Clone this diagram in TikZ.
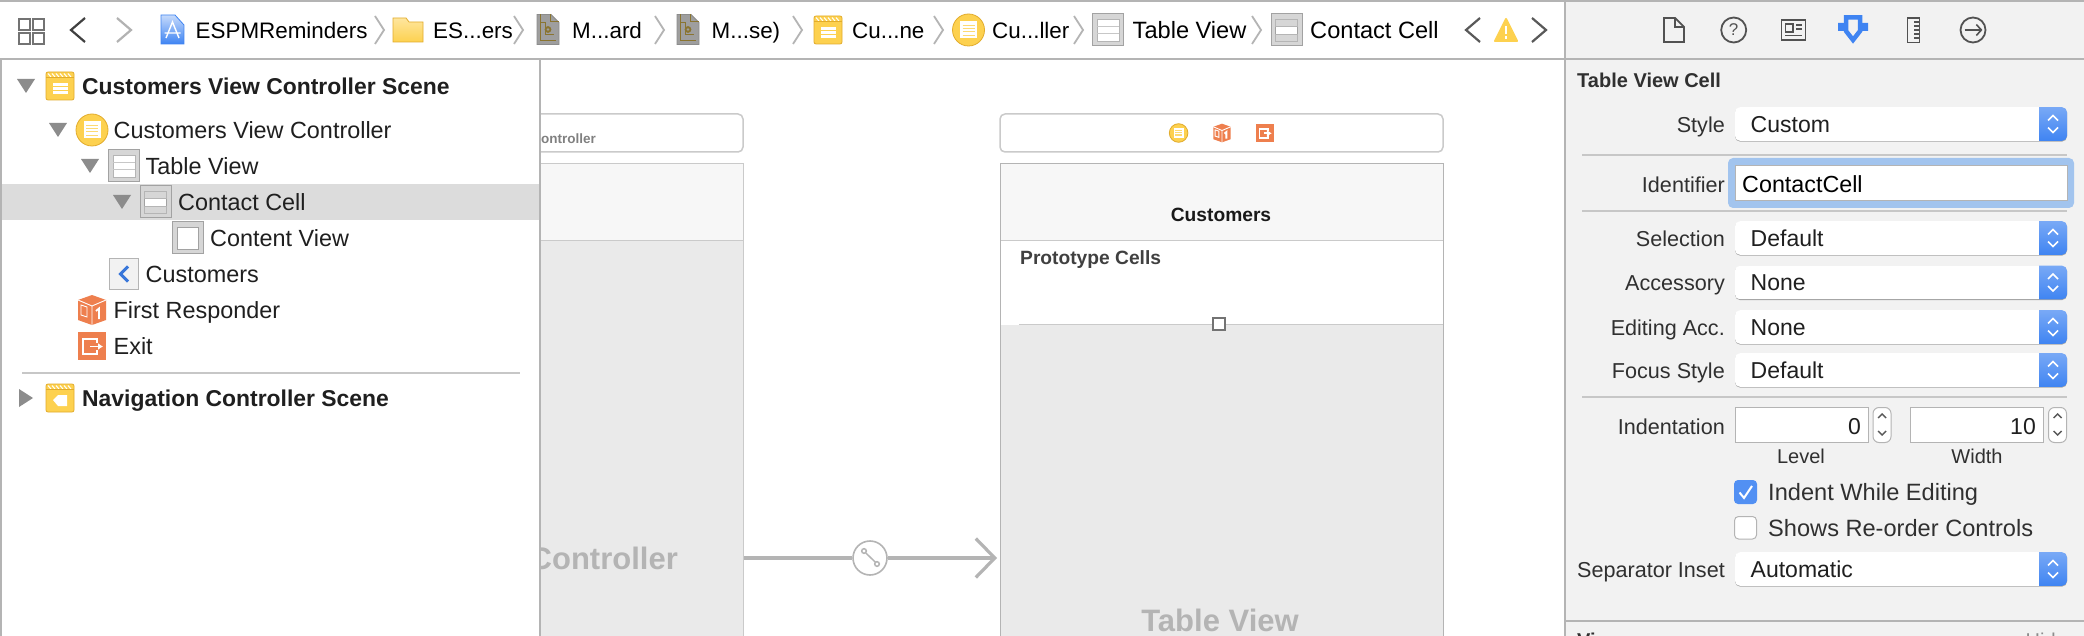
\documentclass[tikz,border=0pt]{standalone}
\usepackage{fontspec}
\setmainfont{Liberation Sans}
\usetikzlibrary{arrows.meta}
\definecolor{barline}{HTML}{B4B4B4}
\definecolor{panelgray}{HTML}{F2F2F2}
\definecolor{rowgray}{HTML}{DCDCDC}
\definecolor{treegray}{HTML}{8C8C8C}
\definecolor{iconyellow}{HTML}{FDD14F}
\definecolor{iconedge}{HTML}{E2AC2C}
\definecolor{iconorange}{HTML}{EE7F4E}
\definecolor{cellgray}{HTML}{D6D6D6}
\definecolor{celledge}{HTML}{A2A2A2}
\definecolor{canvasgray}{HTML}{EAEAEA}
\definecolor{ghostgray}{HTML}{B4B4B4}
\definecolor{pickblue}{HTML}{3F84F2}
\definecolor{focusblue}{HTML}{A2C4EE}
\definecolor{boardbrown}{HTML}{8A7430}
\definecolor{labeltext}{HTML}{303030}

\begin{document}
\begin{tikzpicture}[x=1pt,y=-1pt]
    % Stili
    \tikzset{
        ui text/.style={inner sep=0pt,text height=20.5pt,text depth=4pt,font=\fontsize{23.4}{26}\selectfont,text=black!88},
        crumb text/.style={ui text,anchor=west,text=black,font=\fontsize{22.4}{26}\selectfont},
        tree text/.style={ui text,anchor=west},
        scene text/.style={ui text,anchor=west,font=\fontsize{22.9}{26}\bfseries\selectfont},
        form label/.style={ui text,anchor=east,font=\fontsize{21.6}{26}\selectfont,text=labeltext},
        form value/.style={ui text,anchor=west,font=\fontsize{23}{26}\selectfont},
        check text/.style={ui text,anchor=west,font=\fontsize{23.6}{26}\selectfont,text=labeltext},
        ghost text/.style={ui text,font=\fontsize{31}{34}\bfseries\selectfont,text=ghostgray},
        crumb sep/.style={barline,line width=1.8pt},
        nav chevron/.style={line width=2.2pt,line join=miter},
        divider/.style={barline!75,line width=2pt},
        flow line/.style={barline,line width=3.2pt},
        segue point/.style={circle,draw=barline,fill=white,line width=1.6pt,inner sep=0pt,minimum size=34pt},
        tool stroke/.style={black!68,line width=1.8pt},
        tree open/.pic={\fill[treegray] (-9,-7) -- (9,-7) -- (0,7) -- cycle;},
        tree closed/.pic={\fill[treegray] (-7,-9) -- (7,0) -- (-7,9) -- cycle;},
        scene base/.pic={
            \fill[iconyellow,draw=iconedge,line width=.8pt,rounded corners=2pt] (-14,-14) rectangle (14,14);
            \foreach \stripe in {-12,-8,-4,0,4,8}
                \draw[white,line width=1pt] (\stripe,-12.5) -- (\stripe+3,-9);
            \draw[iconedge,line width=.6pt] (-14,-8.5) -- (14,-8.5);
        },
        scene icon/.pic={
            \pic {scene base};
            \fill[white] (-7,-3) rectangle (8,8);
            \draw[iconyellow,line width=1.1pt] (-7,.8) -- (8,.8) (-7,4.4) -- (8,4.4);
        },
        nav scene icon/.pic={
            \pic {scene base};
            \fill[white] (7,-3) -- (-2,-3) -- (-7,2) -- (-2,8) -- (7,8) -- cycle;
        },
        vc icon/.pic={
            \fill[iconyellow,draw=iconedge,line width=.8pt] (0,0) circle (16);
            \fill[white] (-8.5,-8.5) rectangle (8.5,8.5);
            \draw[iconyellow!80,line width=.8pt] (-6,-5) -- (6,-5) (-6,-1.7) -- (6,-1.7) (-6,1.7) -- (6,1.7) (-6,5) -- (6,5);
        },
        gray tile/.pic={\fill[cellgray,draw=celledge,line width=1pt] (-15.5,-16) rectangle (15.5,16);},
        table icon/.pic={
            \pic {gray tile};
            \fill[white,draw=celledge!80,line width=.8pt] (-11,-11) rectangle (11,11);
            \draw[celledge!60,line width=.8pt] (-11,-3.7) -- (11,-3.7) (-11,3.7) -- (11,3.7);
        },
        cell icon/.pic={
            \pic {gray tile};
            \fill[white,draw=celledge,line width=.8pt] (-11,-11) rectangle (11,11);
            \fill[cellgray,draw=celledge!80,line width=.8pt] (-11,-11) rectangle (11,-4);
            \fill[cellgray,draw=celledge!80,line width=.8pt] (-11,4) rectangle (11,11);
        },
        content icon/.pic={
            \pic {gray tile};
            \fill[white,draw=celledge,line width=.8pt] (-10.5,-11) rectangle (10.5,11);
        },
        back icon/.pic={
            \fill[black!5,draw=barline,line width=1pt] (-14.5,-15) rectangle (14.5,15);
            \draw[pickblue!90!black,line width=3pt] (4,-7.5) -- (-3.5,0) -- (4,7.5);
        },
        cube icon/.pic={
            \fill[iconorange] (0,-15) -- (14,-10) -- (14,10) -- (0,15) -- (-14,10) -- (-14,-10) -- cycle;
            \draw[white,line width=.9pt] (-14,-10) -- (0,-4) -- (14,-10) (0,-4) -- (0,15);
            \draw[white,line width=.9pt] (-11,-5) -- (-5,-3) -- (-5,7) -- (-11,5) -- cycle;
            \draw[white,line width=1.8pt] (4,1) -- (7,-1.5) -- (7,9);
        },
        exit icon/.pic={
            \fill[iconorange] (-14,-14) rectangle (14,14);
            \draw[white,line width=1.8pt] (5,-3) -- (5,-7) -- (-9,-7) -- (-9,8) -- (5,8) -- (5,4);
            \draw[white,line width=1.8pt,-{Latex[length=5pt,width=7pt]}] (-2,.5) -- (11,.5);
        },
        board icon/.pic={
            \fill[black!38,draw=black!45,line width=.8pt] (-11,-15) -- (3,-15) -- (11,-7) -- (11,15) -- (-11,15) -- cycle;
            \draw[boardbrown,line width=1pt] (2,-15) -- (2,-8) -- (11,-8);
            \draw[boardbrown,line width=1pt] (-8,-15) -- (-8,11) -- (8,11);
            \draw[boardbrown,line width=1pt] (-8,-7) -- (-3,-7) -- (-3,5) -- (6,5);
            \fill[boardbrown] (0,0) circle (3.4);
            \fill[black!38] (0,0) circle (1.4);
        },
    }
    \useasboundingbox (0,0) rectangle (2084,636);
    \clip (0,0) rectangle (2084,636);

    % Tela
    \fill[white] (0,0) rectangle (2084,636);
    \draw[barline!70,line width=1.5pt,fill=white,rounded corners=5pt] (300,114) rectangle (743,152);
    \node[ui text,anchor=east,font=\fontsize{13.5}{16}\bfseries\selectfont,text=black!50] (left title) at (596,135) {Controller};
    \fill[canvasgray] (300,164) rectangle (743,640);
    \fill[black!3] (300,164) rectangle (743,240);
    \draw[barline!70,line width=1pt] (300,164) -| (743,640);
    \draw[barline!70,line width=1pt] (300,240.5) -- (743,240.5);
    \node[ghost text,anchor=east] (left ghost) at (678,561) {Controller};

    \draw[barline!70,line width=1.5pt,fill=white,rounded corners=5pt] (1000,114) rectangle (1443,152);
    \pic[scale=.58] at (1178.6,133) {vc icon};
    \pic[scale=.62] at (1222,133) {cube icon};
    \pic[scale=.62] at (1265,133) {exit icon};
    \fill[white] (1000,164) rectangle (1443,640);
    \fill[black!3] (1000,164) rectangle (1443,240);
    \fill[canvasgray] (1000,325) rectangle (1443,640);
    \draw[barline!70,line width=1pt] (1019,324.5) -- (1443,324.5);
    \draw[barline!70,line width=1pt] (1000,240.5) -- (1443,240.5);
    \draw[barline,line width=1pt] (1000,640) |- (1443,164) -- (1443,640);
    \node[ui text,font=\fontsize{19.2}{22}\bfseries\selectfont,text height=15.5pt,text depth=3pt,text=black!90] (table title) at (1221,215) {Customers};
    \node[ui text,anchor=west,font=\fontsize{19.2}{22}\bfseries\selectfont,text height=15.5pt,text depth=3pt,text=black!75] (prototype) at (1020,258) {Prototype Cells};
    \node[draw=black!55,fill=white,line width=1.4pt,minimum size=12pt,inner sep=0pt] (handle) at (1219,324) {};
    \node[ghost text] (table ghost) at (1220,623) {Table View};

    % Segue
    \coordinate (controller frame) at (743.5,558);
    \coordinate (table frame) at (997,558);
    \node[segue point] (segue) at (870,558) {};
    \draw[flow line] (controller frame) -- (segue);
    \draw[flow line,-{Straight Barb[length=19pt,width=39pt,line width=3.2pt]}] (segue) -- (table frame);
    \draw[barline,line width=1.5pt] (864,551) circle (2.3) (877,564) circle (2.3) (865.6,552.8) -- (875.4,562.2);

    % Pannello a sinistra
    \fill[white] (0,59) rectangle (540,636);
    \fill[rowgray] (2,184) rectangle (540,220);
    \draw[barline,line width=2pt] (540,59) -- (540,636);
    \draw[barline,line width=2pt] (1,0) -- (1,636);

    \pic at (26,86) {tree open};
    \pic at (60,86) {scene icon};
    \node[scene text] (scene one) at (82,86) {Customers View Controller Scene};
    \pic at (58,130) {tree open};
    \pic at (92,130) {vc icon};
    \node[tree text] (tree vc) at (113.5,130) {Customers View Controller};
    \pic at (90,166) {tree open};
    \pic at (124,166) {table icon};
    \node[tree text] (tree table) at (145.5,166) {Table View};
    \pic at (122,202) {tree open};
    \pic at (155.5,202) {cell icon};
    \node[tree text] (tree cell) at (178,202) {Contact Cell};
    \pic at (188,238) {content icon};
    \node[tree text] (tree content) at (210,238) {Content View};
    \pic at (124,274) {back icon};
    \node[tree text] (tree back) at (145.5,274) {Customers};
    \pic at (92,310) {cube icon};
    \node[tree text] (tree responder) at (113.5,310) {First Responder};
    \pic at (92,346) {exit icon};
    \node[tree text] (tree exit) at (113.5,346) {Exit};
    \draw[divider] (22,373) -- (520,373);
    \pic at (26,398) {tree closed};
    \pic at (60,398) {nav scene icon};
    \node[scene text] (scene two) at (82,398) {Navigation Controller Scene};

    % Barra in alto
    \fill[white] (0,0) rectangle (1565,59);
    \draw[barline,line width=2.5pt] (0,1.2) -- (2084,1.2);
    \draw[barline,line width=2.5pt] (0,59) -- (1565,59);
    \draw[black!55,line width=1.5pt] (19,19) rectangle (30,30) (33,19) rectangle (44,30) (19,33) rectangle (30,44) (33,33) rectangle (44,44);
    \draw[nav chevron,black!75] (85,18) -- (71,30) -- (85,42);
    \draw[nav chevron,black!30] (117,18) -- (131,30) -- (117,42);
    \shade[top color=pickblue!30,bottom color=pickblue,draw=pickblue,line width=.8pt] (161,15) -- (175,15) -- (184,25) -- (184,44) -- (161,44) -- cycle;
    \draw[white,line width=1.4pt] (166,38) -- (172.5,22) -- (179,38) (164.5,33) -- (180.5,33);
    \node[crumb text] (crumb project) at (195.5,30) {ESPMReminders};
    \draw[crumb sep] (375,16) -- (384,30) -- (375,44);
    \shade[top color=iconyellow!55,bottom color=iconyellow,draw=iconedge,line width=.8pt] (393,18) -- (406,18) -- (409,22) -- (423,22) -- (423,42) -- (393,42) -- cycle;
    \node[crumb text] (crumb group) at (433,30) {ES...ers};
    \draw[crumb sep] (514,16) -- (523,30) -- (514,44);
    \pic at (548,29.5) {board icon};
    \node[crumb text] (crumb board) at (572,30) {M...ard};
    \draw[crumb sep] (655,16) -- (664,30) -- (655,44);
    \pic at (688,29.5) {board icon};
    \node[crumb text] (crumb base) at (711.5,30) {M...se)};
    \draw[crumb sep] (793,16) -- (802,30) -- (793,44);
    \pic at (828,30) {scene icon};
    \node[crumb text] (crumb scene) at (852,30) {Cu...ne};
    \draw[crumb sep] (934,16) -- (943,30) -- (934,44);
    \pic at (968.5,30) {vc icon};
    \node[crumb text] (crumb vc) at (992,30) {Cu...ller};
    \draw[crumb sep] (1074,16) -- (1083,30) -- (1074,44);
    \pic at (1108,30) {table icon};
    \node[crumb text,font=\fontsize{23.6}{26}\selectfont] (crumb table) at (1132.5,30) {Table View};
    \draw[crumb sep] (1252,16) -- (1261,30) -- (1252,44);
    \pic at (1286.5,30) {cell icon};
    \node[crumb text,font=\fontsize{23.6}{26}\selectfont] (crumb cell) at (1310,30) {Contact Cell};
    \draw[nav chevron,black!65] (1480,18) -- (1466,30) -- (1480,42);
    \fill[iconyellow,draw=iconyellow,line width=2pt,line join=round] (1506,19) -- (1517,41) -- (1495,41) -- cycle;
    \draw[white,line width=2pt] (1506,26) -- (1506,34) (1506,36.5) -- (1506,39);
    \draw[nav chevron,black!65] (1532,18) -- (1546,30) -- (1532,42);

    % Ispettore
    \fill[panelgray] (1565,2.5) rectangle (2084,636);
    \draw[barline,line width=2pt] (1565,0) -- (1565,636);
    \draw[barline,line width=2pt] (1565,59) -- (2084,59);
    \draw[tool stroke,line join=miter] (1664,18) -- (1675,18) -- (1684,27) -- (1684,42) -- (1664,42) -- cycle (1675,18) -- (1675,27) -- (1684,27);
    \node[tool stroke,draw,circle,minimum size=25pt,inner sep=0pt,text=black!68,font=\fontsize{17}{18}\selectfont] (tool help) at (1733.7,30) {?};
    \draw[tool stroke] (1781.5,20) rectangle (1805.5,40) (1785.5,24) rectangle (1793,32);
    \draw[black!68,line width=1.3pt] (1796,25) -- (1802,25) (1796,29) -- (1802,29) (1785,35.5) -- (1802,35.5);
    \draw[pickblue,line width=4.5pt,line join=miter] (1853,40) -- (1846,31) -- (1846,17.5) -- (1860,17.5) -- (1860,31) -- cycle;
    \fill[pickblue] (1838,23) rectangle (1846,31) (1860,23) rectangle (1868,31);
    \draw[tool stroke] (1907.5,18) rectangle (1919.5,42.5);
    \draw[black!68,line width=1.3pt] (1914,22) -- (1919,22) (1914,26) -- (1919,26) (1914,30) -- (1919,30) (1914,34) -- (1919,34) (1914,38) -- (1919,38);
    \node[tool stroke,draw,circle,minimum size=25pt,inner sep=0pt] (tool connect) at (1973,30) {};
    \draw[black!68,line width=1.6pt,-{Straight Barb[length=5pt,width=11pt]}] ([xshift=5pt]tool connect.west) -- ([xshift=-4pt]tool connect.east);

    \node[ui text,anchor=west,font=\fontsize{20}{24}\bfseries\selectfont,text=labeltext] (inspector title) at (1577,79) {Table View Cell};
    \draw[divider] (1582,155) -- (2067,155) (1582,211) -- (2067,211) (1582,397) -- (2067,397);

    % Menu a tendina
    \foreach \rowy/\rowlabel/\rowvalue in {124/Style/Custom,238/Selection/Default,282.5/Accessory/None,327/Editing Acc./None,370/Focus Style/Default,569/Separator Inset/Automatic}{
        \fill[black!35,rounded corners=5pt] (1735,\rowy-16.2) rectangle (2067,\rowy+17.6);
        \begin{scope}
            \clip[rounded corners=5pt] (1735,\rowy-16.8) rectangle (2067,\rowy+16.8);
            \fill[white] (1735,\rowy-16.8) rectangle (2039,\rowy+16.8);
            \shade[top color=pickblue!70,bottom color=pickblue] (2039,\rowy-16.8) rectangle (2067,\rowy+16.8);
        \end{scope}
        \draw[white,line width=1.6pt] (2048,\rowy-3.5) -- (2053,\rowy-8.5) -- (2058,\rowy-3.5) (2048,\rowy+3.5) -- (2053,\rowy+8.5) -- (2058,\rowy+3.5);
        \node[form label] (label \rowy) at (1725,\rowy) {\rowlabel};
        \node[form value] (value \rowy) at (1750.5,\rowy) {\rowvalue};
    }

    % Identificatore
    \fill[focusblue,rounded corners=5pt] (1728,158) rectangle (2074,208);
    \draw[barline,fill=white,line width=1pt] (1735,166) rectangle (2067,201);
    \node[form label] (label identifier) at (1725,184) {Identifier};
    \node[ui text,anchor=west,font=\fontsize{23.3}{26}\selectfont,text=black] (value identifier) at (1742,184) {ContactCell};

    % Rientro
    \node[form label] (label indent) at (1725,426) {Indentation};
    \draw[barline,fill=white,line width=1pt] (1735,407.5) rectangle (1868,442) (1910,407.5) rectangle (2043,442);
    \node[form value,anchor=east] (indent level) at (1861,426) {0};
    \node[form value,anchor=east] (indent width) at (2036,426) {10};
    \foreach \stepx in {1882,2057.5}{
        \draw[barline,fill=white,line width=1pt,rounded corners=6pt] (\stepx-9,407.5) rectangle (\stepx+9,442.5);
        \draw[black!65,line width=1.4pt] (\stepx-4,418) -- (\stepx,414) -- (\stepx+4,418) (\stepx-4,431) -- (\stepx,435) -- (\stepx+4,431);
    }
    \node[form label,anchor=center,font=\fontsize{20}{24}\selectfont] (caption level) at (1801,455) {Level};
    \node[form label,anchor=center,font=\fontsize{20}{24}\selectfont] (caption width) at (1977,455) {Width};

    % Caselle
    \fill[pickblue!90,rounded corners=4pt] (1734,480) rectangle (1757,504);
    \draw[white,line width=2pt] (1739.5,492.5) -- (1744,498) -- (1752,486);
    \node[check text] (check indent) at (1768,492) {Indent While Editing};
    \draw[barline,fill=white,line width=1pt,rounded corners=4pt] (1734.5,516.5) rectangle (1756.5,539);
    \node[check text] (check reorder) at (1768,528) {Shows Re-order Controls};

    \draw[barline,line width=2pt] (1565,621) -- (2084,621);
    \node[ui text,anchor=west,font=\fontsize{20}{24}\bfseries\selectfont,text=labeltext] (view title) at (1577,639) {View};
    \node[ui text,anchor=east,font=\fontsize{20}{24}\selectfont,text=black!45] (hide link) at (2067,639) {Hide};
\end{tikzpicture}
\end{document}
